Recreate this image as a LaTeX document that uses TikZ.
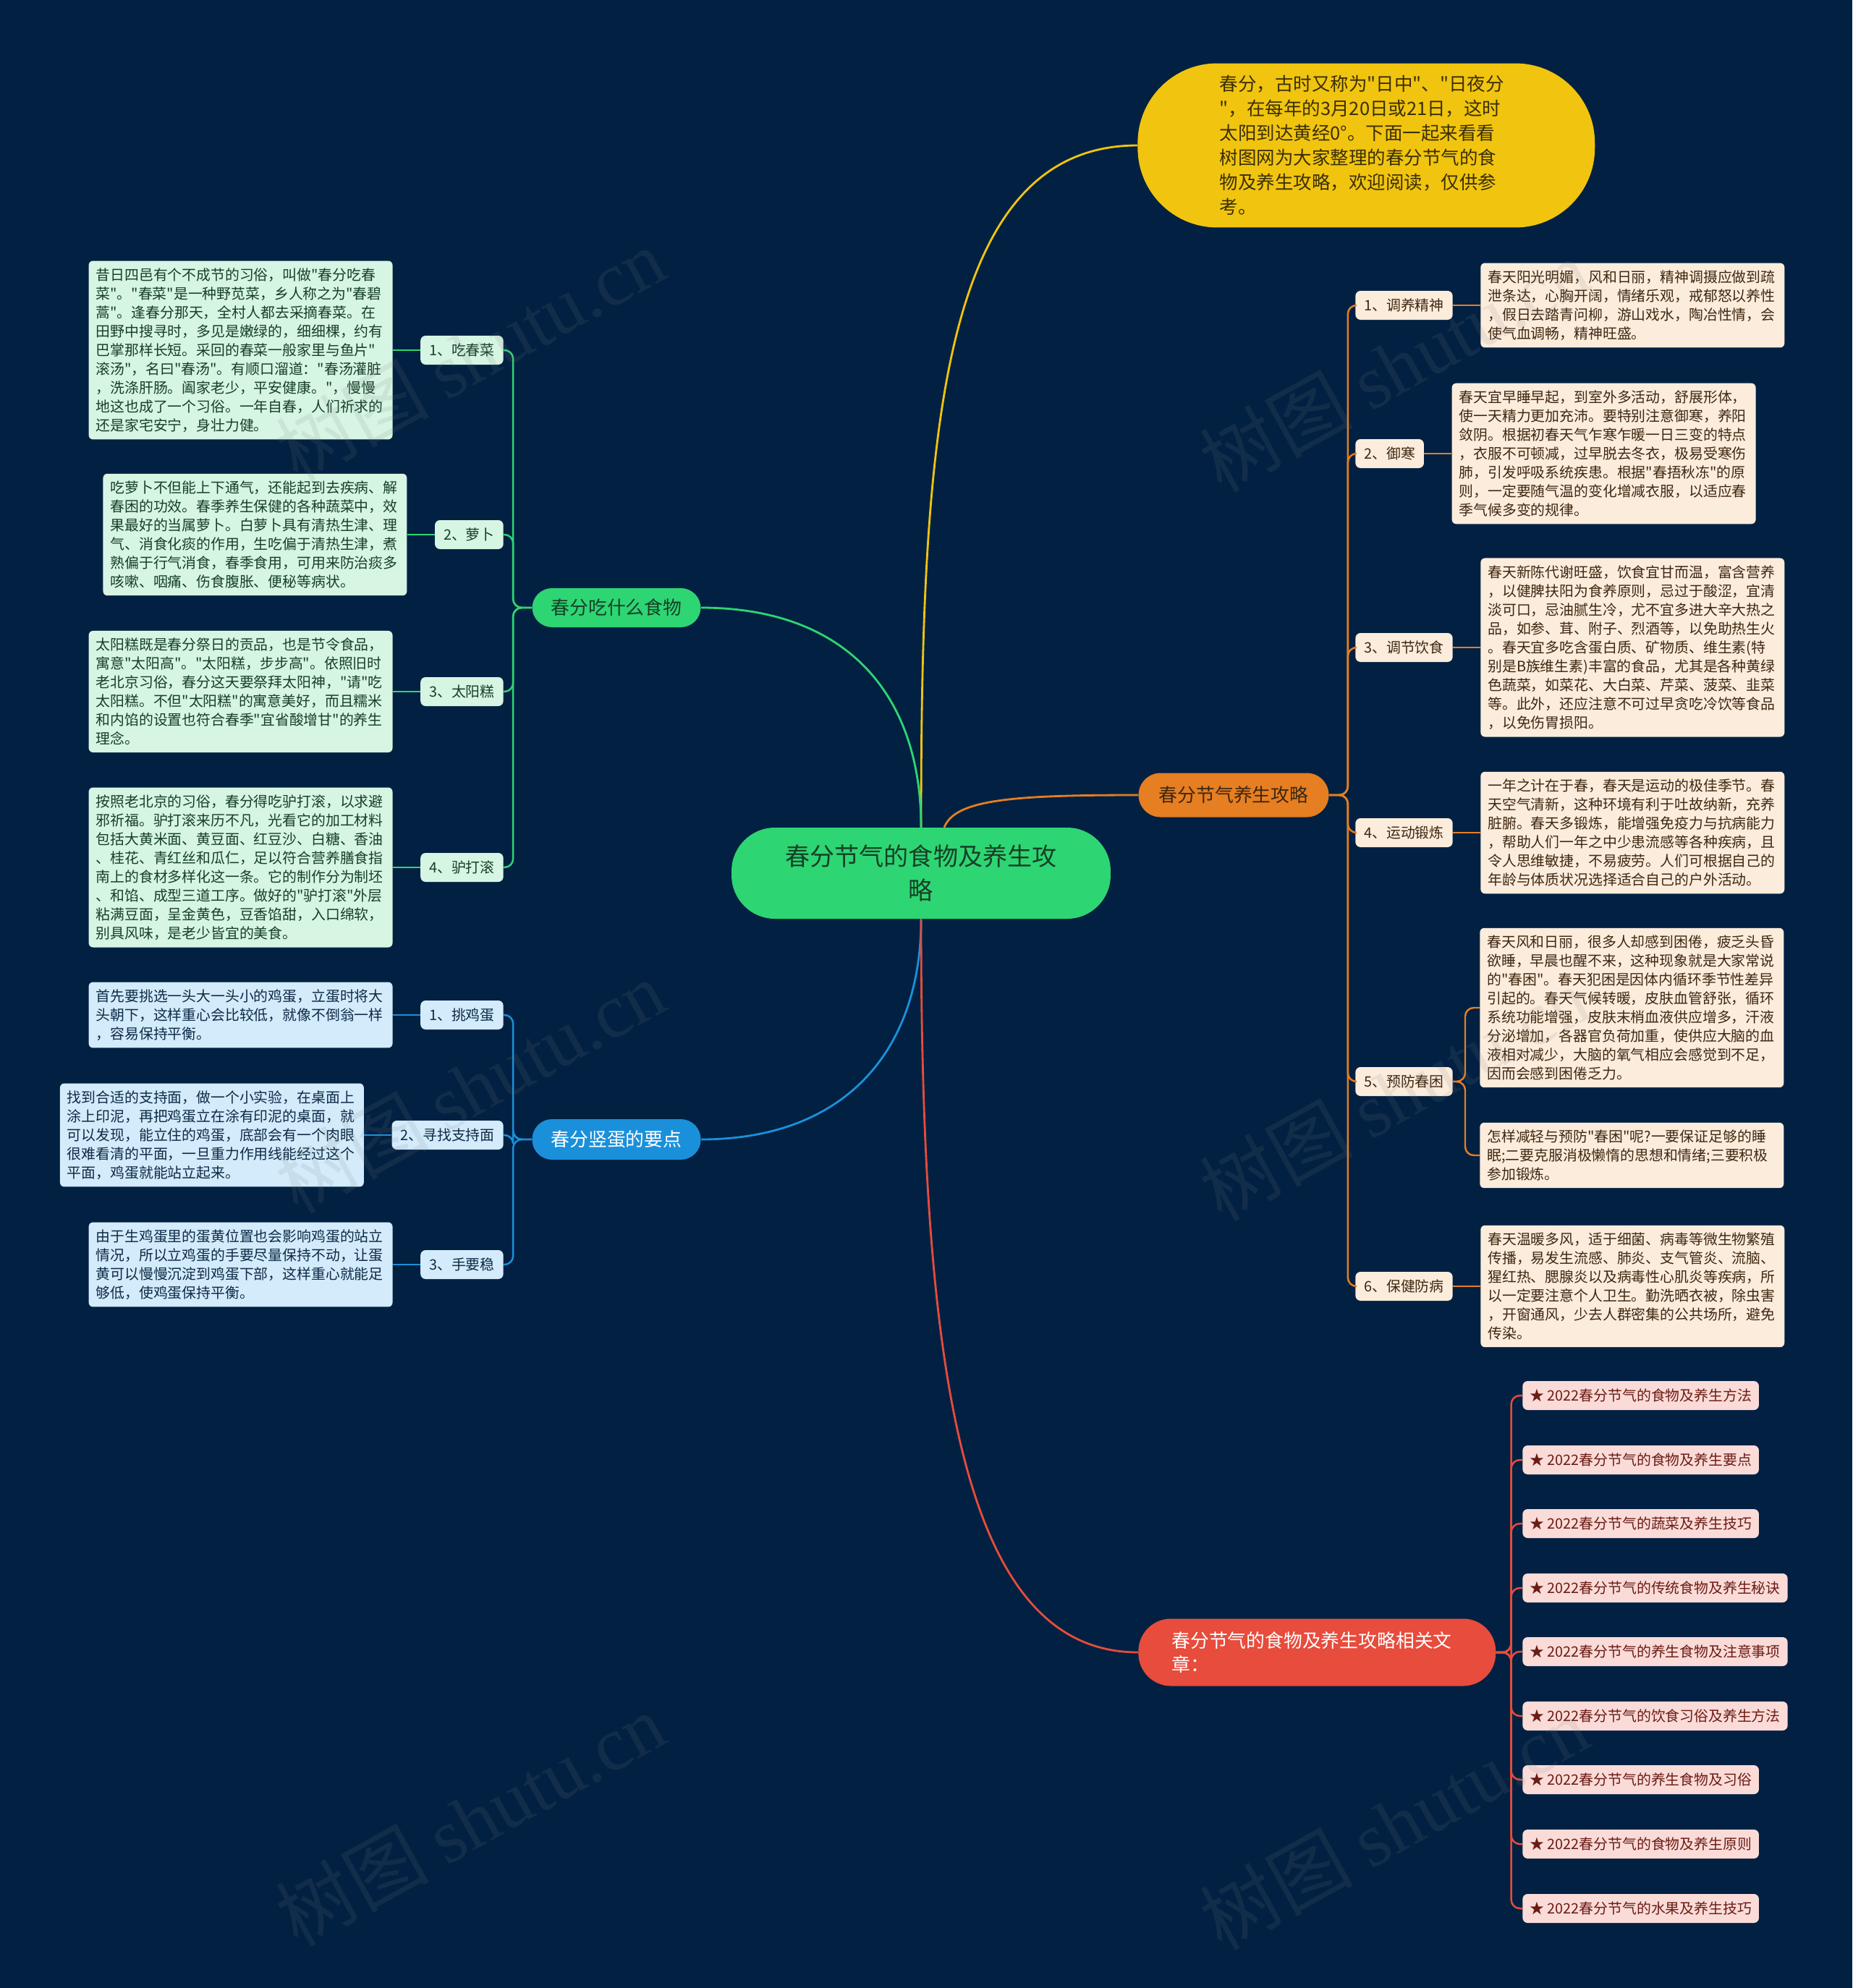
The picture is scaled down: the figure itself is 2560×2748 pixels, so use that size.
\documentclass[tikz,border=0pt]{standalone}
\usepackage{fontspec}
\setmainfont{Noto Sans CJK SC}[Ligatures=TeXOff]
\newfontfamily\wmserif{Liberation Serif}
\usepackage{tikz}
\usetikzlibrary{positioning,calc}
\definecolor{bgnavy}{HTML}{022142}
\definecolor{cgreen}{HTML}{2ED573}
\definecolor{gmint}{HTML}{D6F5E3}
\definecolor{gink}{HTML}{173F27}
\definecolor{cblue}{HTML}{1B90DA}
\definecolor{bmist}{HTML}{D3EBFA}
\definecolor{bink}{HTML}{0D2A46}
\definecolor{corange}{HTML}{E67E22}
\definecolor{opeach}{HTML}{FBECDC}
\definecolor{oink}{HTML}{3F2710}
\definecolor{cred}{HTML}{E74C3C}
\definecolor{rpink}{HTML}{FADBD8}
\definecolor{rink}{HTML}{6A1C14}
\definecolor{cyellow}{HTML}{F1C40F}
\definecolor{yink}{HTML}{3A2F05}
\newcommand\infofont{\fontsize{11.3pt}{14.8pt}\selectfont}
\newcommand\subfont{\fontsize{11.3pt}{13pt}\selectfont}
\newcommand\branchfont{\fontsize{14.7pt}{18.8pt}\selectfont}
\newcommand\rootfont{\fontsize{19.4pt}{26.7pt}\selectfont}
\newcommand\introfont{\fontsize{14.5pt}{19.35pt}\selectfont}

\begin{document}
\begin{tikzpicture}[x=0.02cm,y=-0.02cm,
  node distance=7.6mm,
  root/.style={fill=cgreen,text=gink,rounded corners=1.2cm,minimum width=10.48cm,minimum height=2.52cm,align=center,font=\rootfont},
  intro/.style={fill=cyellow,text=yink,rounded corners=2.2cm,minimum width=12.64cm,minimum height=4.54cm,text width=8.1cm,inner xsep=0pt,align=left,font=\introfont},
  branch/.style={rounded corners=0.55cm,minimum height=1.1cm,align=center,font=\branchfont},
  sub/.style={rounded corners=0.14cm,minimum height=0.8cm,inner xsep=0.24cm,inner ysep=0pt,font=\subfont},
  gsub/.style={sub,fill=gmint,text=gink},
  bsub/.style={sub,fill=bmist,text=bink},
  osub/.style={sub,fill=opeach,text=oink},
  ritem/.style={sub,fill=rpink,text=rink,inner xsep=0.2cm},
  info/.style={rounded corners=0.12cm,text width=8cm,inner xsep=0.2cm,inner ysep=0.2cm,align=left,font=\infofont},
  ginfo/.style={info,fill=gmint,text=gink},
  binfo/.style={info,fill=bmist,text=bink},
  oinfo/.style={info,fill=opeach,text=oink},
  gline/.style={draw=cgreen,line width=1.4pt,rounded corners=0.24cm},
  bline/.style={draw=cblue,line width=1.4pt,rounded corners=0.24cm},
  oline/.style={draw=corange,line width=1.4pt,rounded corners=0.24cm},
  rline/.style={draw=cred,line width=1.4pt,rounded corners=0.24cm},
  wmark/.style={rotate=29,text=gray,opacity=0.13,font=\fontsize{60pt}{60pt}\selectfont}]
  \fill[bgnavy] (0,0) rectangle (2560,2748);
  \useasboundingbox (0,0) rectangle (2560,2748);

  % centre and main branches
  \node[root] (root) at (1273,1207) {春分节气的食物及养生攻\\略};
  \node[intro,anchor=west] (intro) at (1572,201) {春分，古时又称为"日中"、"日夜分\\"，在每年的3月20日或21日，这时\\太阳到达黄经0°。下面一起来看看\\树图网为大家整理的春分节气的食\\物及养生攻略，欢迎阅读，仅供参\\考。};
  \node[branch,fill=cgreen,text=gink,minimum width=4.66cm,minimum height=1.08cm] (food) at (852,840) {春分吃什么食物};
  \node[branch,fill=cblue,text=white,minimum width=4.66cm,minimum height=1.12cm] (egg) at (852,1575) {春分竖蛋的要点};
  \node[branch,fill=corange,text=oink,minimum width=5.26cm,minimum height=1.22cm,rounded corners=0.61cm] (care) at (1705,1099) {春分节气养生攻略};
  \node[branch,fill=cred,text=white,anchor=west,minimum width=9.88cm,minimum height=1.86cm,text width=8.04cm,inner xsep=0.92cm,align=left,rounded corners=0.9cm] (rel) at (1573,2284) {春分节气的食物及养生攻略相关文\\章：};

  \draw[draw=cyellow,line width=1.6pt] (root.north) .. controls (1273,600) and (1300,201) .. (intro.west);
  \draw[draw=cgreen,line width=1.6pt] (root.north) .. controls (1273,960) and (1170,840) .. (food.east);
  \draw[draw=corange,line width=1.6pt] ($(root.north)+(32,0)$) .. controls (1320,1105) and (1400,1099) .. (care.west);
  \draw[draw=cblue,line width=1.6pt] (root.south) .. controls (1273,1450) and (1170,1575) .. (egg.east);
  \draw[draw=cred,line width=1.6pt] (root.south) .. controls (1273,1900) and (1330,2284) .. (rel.west);

  % what to eat
  \node[gsub,anchor=east] (f1) at (696,484) {1、吃春菜};
  \node[gsub,anchor=east] (f2) at (696,739) {2、萝卜};
  \node[gsub,anchor=east] (f3) at (696,956) {3、太阳糕};
  \node[gsub,anchor=east] (f4) at (696,1199) {4、驴打滚};
  \node[ginfo,left=of f1] (fi1) {昔日四邑有个不成节的习俗，叫做"春分吃春\\菜"。"春菜"是一种野苋菜，乡人称之为"春碧\\蒿"。逢春分那天，全村人都去采摘春菜。在\\田野中搜寻时，多见是嫩绿的，细细棵，约有\\巴掌那样长短。采回的春菜一般家里与鱼片"\\滚汤"，名曰"春汤"。有顺口溜道："春汤灌脏\\，洗涤肝肠。阖家老少，平安健康。"，慢慢\\地这也成了一个习俗。一年自春，人们祈求的\\还是家宅安宁，身壮力健。};
  \node[ginfo,left=of f2] (fi2) {吃萝卜不但能上下通气，还能起到去疾病、解\\春困的功效。春季养生保健的各种蔬菜中，效\\果最好的当属萝卜。白萝卜具有清热生津、理\\气、消食化痰的作用，生吃偏于清热生津，煮\\熟偏于行气消食，春季食用，可用来防治痰多\\咳嗽、咽痛、伤食腹胀、便秘等病状。};
  \node[ginfo,left=of f3] (fi3) {太阳糕既是春分祭日的贡品，也是节令食品，\\寓意"太阳高"。"太阳糕，步步高"。依照旧时\\老北京习俗，春分这天要祭拜太阳神，"请"吃\\太阳糕。不但"太阳糕"的寓意美好，而且糯米\\和内馅的设置也符合春季"宜省酸增甘"的养生\\理念。};
  \node[ginfo,left=of f4] (fi4) {按照老北京的习俗，春分得吃驴打滚，以求避\\邪祈福。驴打滚来历不凡，光看它的加工材料\\包括大黄米面、黄豆面、红豆沙、白糖、香油\\、桂花、青红丝和瓜仁，足以符合营养膳食指\\南上的食材多样化这一条。它的制作分为制坯\\、和馅、成型三道工序。做好的"驴打滚"外层\\粘满豆面，呈金黄色，豆香馅甜，入口绵软，\\别具风味，是老少皆宜的美食。};
  \draw[gline] (food.west) -- ++(-26,0) |- (f1.east);
  \draw[gline] (food.west) -- ++(-26,0) |- (f2.east);
  \draw[gline] (food.west) -- ++(-26,0) |- (f3.east);
  \draw[gline] (food.west) -- ++(-26,0) |- (f4.east);
  \draw[gline] (f1) -- (fi1); \draw[gline] (f2) -- (fi2);
  \draw[gline] (f3) -- (fi3); \draw[gline] (f4) -- (fi4);

  % standing eggs
  \node[bsub,anchor=east] (e1) at (696,1403) {1、挑鸡蛋};
  \node[bsub,anchor=east] (e2) at (696,1569) {2、寻找支持面};
  \node[bsub,anchor=east] (e3) at (696,1748) {3、手要稳};
  \node[binfo,left=of e1] (ei1) {首先要挑选一头大一头小的鸡蛋，立蛋时将大\\头朝下，这样重心会比较低，就像不倒翁一样\\，容易保持平衡。};
  \node[binfo,left=of e2] (ei2) {找到合适的支持面，做一个小实验，在桌面上\\涂上印泥，再把鸡蛋立在涂有印泥的桌面，就\\可以发现，能立住的鸡蛋，底部会有一个肉眼\\很难看清的平面，一旦重力作用线能经过这个\\平面，鸡蛋就能站立起来。};
  \node[binfo,left=of e3] (ei3) {由于生鸡蛋里的蛋黄位置也会影响鸡蛋的站立\\情况，所以立鸡蛋的手要尽量保持不动，让蛋\\黄可以慢慢沉淀到鸡蛋下部，这样重心就能足\\够低，使鸡蛋保持平衡。};
  \draw[bline] (egg.west) -- ++(-26,0) |- (e1.east);
  \draw[bline] (egg.west) -- ++(-26,0) |- (e2.east);
  \draw[bline] (egg.west) -- ++(-26,0) |- (e3.east);
  \draw[bline] (e1) -- (ei1); \draw[bline] (e2) -- (ei2); \draw[bline] (e3) -- (ei3);

  % health care
  \node[osub,anchor=west] (c1) at (1873,422) {1、调养精神};
  \node[osub,anchor=west] (c2) at (1873,627) {2、御寒};
  \node[osub,anchor=west] (c3) at (1873,895) {3、调节饮食};
  \node[osub,anchor=west] (c4) at (1873,1151) {4、运动锻炼};
  \node[osub,anchor=west] (c5) at (1873,1495) {5、预防春困};
  \node[osub,anchor=west] (c6) at (1873,1778) {6、保健防病};
  \node[oinfo,right=of c1] (ci1) {春天阳光明媚，风和日丽，精神调摄应做到疏\\泄条达，心胸开阔，情绪乐观，戒郁怒以养性\\，假日去踏青问柳，游山戏水，陶冶性情，会\\使气血调畅，精神旺盛。};
  \node[oinfo,right=of c2] (ci2) {春天宜早睡早起，到室外多活动，舒展形体，\\使一天精力更加充沛。要特别注意御寒，养阳\\敛阴。根据初春天气乍寒乍暖一日三变的特点\\，衣服不可顿减，过早脱去冬衣，极易受寒伤\\肺，引发呼吸系统疾患。根据"春捂秋冻"的原\\则，一定要随气温的变化增减衣服，以适应春\\季气候多变的规律。};
  \node[oinfo,right=of c3] (ci3) {春天新陈代谢旺盛，饮食宜甘而温，富含营养\\，以健脾扶阳为食养原则，忌过于酸涩，宜清\\淡可口，忌油腻生冷，尤不宜多进大辛大热之\\品，如参、茸、附子、烈酒等，以免助热生火\\。春天宜多吃含蛋白质、矿物质、维生素(特\\别是B族维生素)丰富的食品，尤其是各种黄绿\\色蔬菜，如菜花、大白菜、芹菜、菠菜、韭菜\\等。此外，还应注意不可过早贪吃冷饮等食品\\，以免伤胃损阳。};
  \node[oinfo,right=of c4] (ci4) {一年之计在于春，春天是运动的极佳季节。春\\天空气清新，这种环境有利于吐故纳新，充养\\脏腑。春天多锻炼，能增强免疫力与抗病能力\\，帮助人们一年之中少患流感等各种疾病，且\\令人思维敏捷，不易疲劳。人们可根据自己的\\年龄与体质状况选择适合自己的户外活动。};
  \node[oinfo,anchor=west] (ci5a) at (2045,1393) {春天风和日丽，很多人却感到困倦，疲乏头昏\\欲睡，早晨也醒不来，这种现象就是大家常说\\的"春困"。春天犯困是因体内循环季节性差异\\引起的。春天气候转暖，皮肤血管舒张，循环\\系统功能增强，皮肤末梢血液供应增多，汗液\\分泌增加，各器官负荷加重，使供应大脑的血\\液相对减少，大脑的氧气相应会感觉到不足，\\因而会感到困倦乏力。};
  \node[oinfo,anchor=west] (ci5b) at (2045,1597) {怎样减轻与预防"春困"呢?一要保证足够的睡\\眠;二要克服消极懒惰的思想和情绪;三要积极\\参加锻炼。};
  \node[oinfo,right=of c6] (ci6) {春天温暖多风，适于细菌、病毒等微生物繁殖\\传播，易发生流感、肺炎、支气管炎、流脑、\\猩红热、腮腺炎以及病毒性心肌炎等疾病，所\\以一定要注意个人卫生。勤洗晒衣被，除虫害\\，开窗通风，少去人群密集的公共场所，避免\\传染。};
  \draw[oline] (care.east) -- ++(26,0) |- (c1.west);
  \draw[oline] (care.east) -- ++(26,0) |- (c2.west);
  \draw[oline] (care.east) -- ++(26,0) |- (c3.west);
  \draw[oline] (care.east) -- ++(26,0) |- (c4.west);
  \draw[oline] (care.east) -- ++(26,0) |- (c5.west);
  \draw[oline] (care.east) -- ++(26,0) |- (c6.west);
  \draw[oline] (c1) -- (ci1); \draw[oline] (c2) -- (ci2); \draw[oline] (c3) -- (ci3);
  \draw[oline] (c4) -- (ci4); \draw[oline] (c6) -- (ci6);
  \draw[oline] (c5.east) -- ++(17,0) |- (ci5a.west);
  \draw[oline] (c5.east) -- ++(17,0) |- (ci5b.west);

  % related articles
  \node[ritem,anchor=west] (r1) at (2104,1929) {★ 2022春分节气的食物及养生方法};
  \node[ritem,anchor=west] (r2) at (2104,2018) {★ 2022春分节气的食物及养生要点};
  \node[ritem,anchor=west] (r3) at (2104,2106) {★ 2022春分节气的蔬菜及养生技巧};
  \node[ritem,anchor=west] (r4) at (2104,2195) {★ 2022春分节气的传统食物及养生秘诀};
  \node[ritem,anchor=west] (r5) at (2104,2283) {★ 2022春分节气的养生食物及注意事项};
  \node[ritem,anchor=west] (r6) at (2104,2372) {★ 2022春分节气的饮食习俗及养生方法};
  \node[ritem,anchor=west] (r7) at (2104,2460) {★ 2022春分节气的养生食物及习俗};
  \node[ritem,anchor=west] (r8) at (2104,2549) {★ 2022春分节气的食物及养生原则};
  \node[ritem,anchor=west] (r9) at (2104,2638) {★ 2022春分节气的水果及养生技巧};
  \draw[rline] (rel.east) -- ++(21,0) |- (r1.west); \draw[rline] (rel.east) -- ++(21,0) |- (r2.west);
  \draw[rline] (rel.east) -- ++(21,0) |- (r3.west); \draw[rline] (rel.east) -- ++(21,0) |- (r4.west);
  \draw[rline] (rel.east) -- ++(21,0) |- (r5.west); \draw[rline] (rel.east) -- ++(21,0) |- (r6.west);
  \draw[rline] (rel.east) -- ++(21,0) |- (r7.west); \draw[rline] (rel.east) -- ++(21,0) |- (r8.west);
  \draw[rline] (rel.east) -- ++(21,0) |- (r9.west);

  % watermarks
  \node[wmark] (w1) at (650,490) {树图 {\wmserif shutu.cn}};
  \node[wmark] (w2) at (1927,505) {树图 {\wmserif shutu.cn}};
  \node[wmark] (w3) at (650,1502) {树图 {\wmserif shutu.cn}};
  \node[wmark] (w4) at (1927,1512) {树图 {\wmserif shutu.cn}};
  \node[wmark] (w5) at (650,2515) {树图 {\wmserif shutu.cn}};
  \node[wmark] (w6) at (1927,2520) {树图 {\wmserif shutu.cn}};
\end{tikzpicture}
\end{document}
